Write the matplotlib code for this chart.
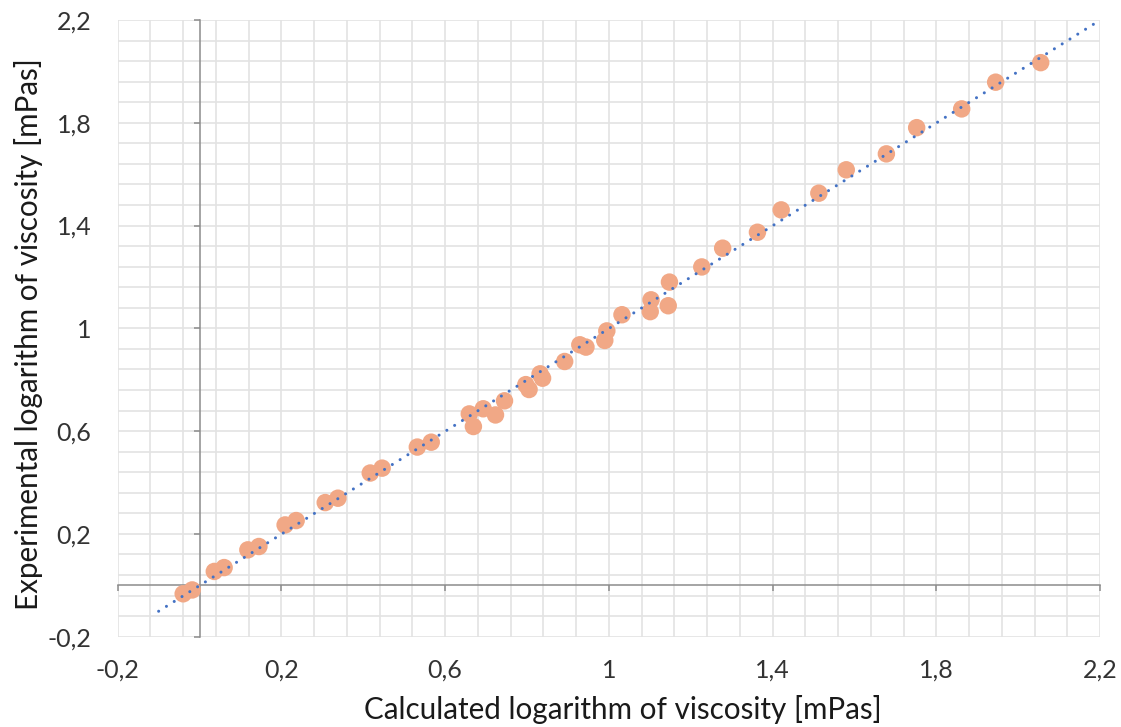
import numpy as np
import matplotlib
matplotlib.use("Agg")
import matplotlib.pyplot as plt
from matplotlib.ticker import FixedLocator, FuncFormatter

# Calculated vs experimental log10 viscosity [mPas]
calc_log_visc = [
    -0.040, -0.018, 0.036, 0.060, 0.118, 0.145, 0.209, 0.236, 0.307, 0.338,
    0.417, 0.446, 0.532, 0.566, 0.659, 0.669, 0.693, 0.723, 0.745, 0.797,
    0.805, 0.832, 0.838, 0.892, 0.929, 0.944, 0.995, 0.990, 1.032, 1.103,
    1.101, 1.145, 1.148, 1.227, 1.278, 1.363, 1.421, 1.513, 1.580, 1.678,
    1.752, 1.862, 1.945, 2.055,
]
exp_log_visc = [
    -0.033, -0.018, 0.054, 0.069, 0.138, 0.151, 0.235, 0.252, 0.322, 0.339,
    0.437, 0.456, 0.538, 0.557, 0.667, 0.618, 0.687, 0.663, 0.718, 0.781,
    0.762, 0.823, 0.806, 0.871, 0.936, 0.927, 0.990, 0.953, 1.053, 1.111,
    1.065, 1.088, 1.180, 1.239, 1.312, 1.374, 1.461, 1.526, 1.617, 1.679,
    1.781, 1.854, 1.958, 2.034,
]

# Axis range and tick layout
axis_min, axis_max = -0.2, 2.2
major_step, minor_step = 0.4, 0.08
trend_start = -0.1  # linear trendline extended backward to this x

major_ticks = np.round(np.arange(axis_min, axis_max + 1e-9, major_step), 2)
minor_ticks = np.round(np.arange(axis_min, axis_max + 1e-9, minor_step), 2)


def comma_fmt(v, _pos=None):
    return f"{round(v, 2):g}".replace(".", ",")


plt.rcParams["font.family"] = ["Lato", "DejaVu Sans"]

fig = plt.figure(figsize=(11.21, 7.27), dpi=100)
ax = fig.add_axes([0.105, 0.1242, 0.8763, 0.8483])
ax.set_xlim(axis_min, axis_max)
ax.set_ylim(axis_min, axis_max)

# Light grid on every minor step (major positions included)
grid_col = "#E3E3E3"
ax.xaxis.set_major_locator(FixedLocator(major_ticks))
ax.yaxis.set_major_locator(FixedLocator(major_ticks))
ax.xaxis.set_minor_locator(FixedLocator(minor_ticks))
ax.yaxis.set_minor_locator(FixedLocator(minor_ticks))
ax.grid(which="both", color=grid_col, linewidth=1.2, zorder=0)
ax.tick_params(which="minor", length=0)
ax.set_axisbelow(True)

# Zero axes with outward major ticks
axis_col = "#8C8C8C"
for side in ("top", "right"):
    ax.spines[side].set_visible(False)
ax.spines["left"].set_position(("data", 0))
ax.spines["bottom"].set_position(("data", 0))
for side in ("left", "bottom"):
    ax.spines[side].set_color(axis_col)
    ax.spines[side].set_linewidth(1.1)
ax.tick_params(which="major", direction="out", length=4, width=1.1,
               color=axis_col, labelleft=False, labelbottom=False)

# Tick labels along the outer edges of the plot area
label_col = "#333333"
tick_fs = 18
sec_x = ax.secondary_xaxis(0.0)
sec_x.xaxis.set_major_locator(FixedLocator(major_ticks))
sec_x.xaxis.set_major_formatter(FuncFormatter(comma_fmt))
sec_x.tick_params(length=0, pad=16, labelsize=tick_fs, labelcolor=label_col)
sec_x.spines["bottom"].set_visible(False)

sec_y = ax.secondary_yaxis(0.0)
sec_y.yaxis.set_major_locator(FixedLocator(major_ticks))
sec_y.yaxis.set_major_formatter(FuncFormatter(comma_fmt))
sec_y.tick_params(length=0, pad=19, labelsize=tick_fs, labelcolor=label_col)
sec_y.spines["left"].set_visible(False)

# Data points
ax.scatter(calc_log_visc, exp_log_visc, s=158, color="#F1A886",
           edgecolors="none", zorder=3, clip_on=False)

# Linear trendline (least squares), dotted
slope, intercept = np.polyfit(calc_log_visc, exp_log_visc, 1)
tx = np.array([trend_start, axis_max])
ax.plot(tx, slope * tx + intercept, color="#4472C4", linewidth=2.2,
        linestyle=(0, (0.01, 3.0)), dash_capstyle="round", zorder=4)

fig.text(0.556, 0.011, "Calculated logarithm of viscosity [mPas]",
         ha="center", va="baseline", fontsize=21.3, color="#1A1A1A")
fig.text(0.025, 0.541, "Experimental logarithm of viscosity [mPas]",
         ha="center", va="center", rotation=90, fontsize=21.3, color="#1A1A1A")

fig.savefig("out.png", dpi=100)
